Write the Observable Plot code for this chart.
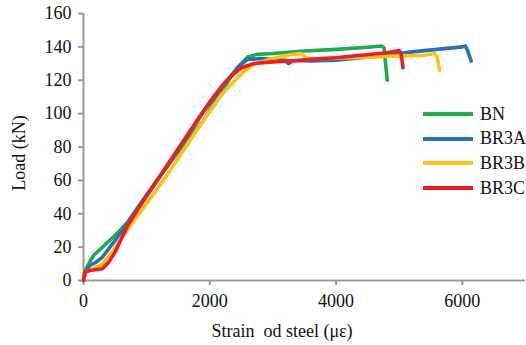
<!DOCTYPE html>
<html>
<head>
<meta charset="utf-8">
<script src="https://cdn.jsdelivr.net/npm/d3@7"></script>
<script src="https://cdn.jsdelivr.net/npm/@observablehq/plot@0.6"></script>
<style>
  body { margin: 0; background: #fff; }
  #wrap { position: relative; width: 526px; height: 345px; font-family: "Liberation Serif", "Times New Roman", serif; color: #111; }
  #wrap svg { position: absolute; left: 0; top: 0; }
  #wrap svg, #wrap svg text { font-family: "Liberation Serif", "Times New Roman", serif !important; font-size: 18px !important; }
  .lbl { position: absolute; font-size: 18px; white-space: pre; line-height: 1; font-family: "Liberation Serif", serif; }
  #ylab { left: 19px; top: 153px; transform: translate(-50%, -50%) rotate(-90deg); }
  #xlab { left: 282px; top: 331px; transform: translate(-50%, -50%); }
  #legend { position: absolute; left: 423px; top: 102px; }
  .item { display: flex; align-items: center; height: 24.6px; }
  .swatch { width: 50px; height: 4px; margin-right: 7px; }
  .item span { font-size: 18px; font-family: "Liberation Serif", serif; }
</style>
</head>
<body>
<div id="wrap"></div>
<script>
// Series names and colours
const seriesNames = ["BN", "BR3A", "BR3B", "BR3C"];
const seriesColors = ["#1fab4e", "#2772b6", "#ffc114", "#ee1c24"];

// Strain (µε) and load (kN) for each specimen
const bnStrain   = [0, 20, 80, 160, 300, 500, 700, 900, 1200, 1500, 1750, 1900, 2100, 2300, 2450, 2600, 2750, 3000, 3500, 4000, 4500, 4720, 4760, 4810];
const bnLoad     = [0, 5, 10, 15, 20, 27, 35, 46, 62, 77, 89, 96, 108, 120, 128, 134, 135.5, 136, 137.5, 138.5, 139.8, 140.5, 139.5, 120];

const br3aStrain = [0, 30, 100, 200, 300, 500, 800, 1000, 1300, 1600, 1900, 2100, 2300, 2450, 2600, 2800, 3200, 3600, 4000, 4400, 4800, 5200, 5600, 6000, 6050, 6080, 6140];
const br3aLoad   = [0, 5, 9, 11, 14, 24, 40, 51, 67, 84, 101, 111, 121, 128, 132.5, 133, 132, 131.5, 132, 133.5, 135, 137, 138.5, 140, 140.5, 138, 131.5];

const br3bStrain = [0, 30, 150, 300, 450, 600, 800, 1000, 1300, 1600, 1900, 2200, 2400, 2550, 2700, 3000, 3300, 3450, 3550, 3800, 4200, 4600, 5000, 5400, 5560, 5600, 5640];
const br3bLoad   = [0, 5, 7, 10, 17, 25, 36, 46, 62, 79, 96, 112, 120, 125.5, 129.5, 133, 135.5, 136, 133, 133, 133.5, 134, 134.5, 135, 136, 134, 126];

const br3cStrain = [0, 25, 100, 300, 400, 500, 600, 700, 900, 1200, 1500, 1800, 2000, 2200, 2350, 2500, 2700, 3000, 3200, 3250, 3300, 3600, 4000, 4400, 4800, 5000, 5030, 5060];
const br3cLoad   = [0, 5, 6, 7, 11, 17, 25, 33, 45, 62, 79, 96, 107, 117, 123, 127.5, 130, 131, 131.5, 130, 131.5, 132.5, 133.5, 135, 136.5, 137.8, 136, 127.5];

// Axis ticks
const xTicks = [0, 2000, 4000, 6000];
const yTicks = [0, 20, 40, 60, 80, 100, 120, 140, 160];

const allStrain = [bnStrain, br3aStrain, br3bStrain, br3cStrain];
const allLoad = [bnLoad, br3aLoad, br3bLoad, br3cLoad];
const rows = seriesNames.flatMap((name, i) =>
  allStrain[i].map((s, j) => ({ series: name, strain: s, load: allLoad[i][j] })));

const axisGrey = "#999999";

const chart = Plot.plot({
  width: 526,
  height: 345,
  marginLeft: 83,
  marginRight: 1,
  marginTop: 13,
  marginBottom: 65,
  style: "font-family: 'Liberation Serif', serif; font-size: 18px; background: white; color: #111;",
  x: { domain: [0, 7000] },
  y: { domain: [0, 160] },
  color: { domain: seriesNames, range: seriesColors },
  marks: [
    Plot.ruleY([0], { stroke: axisGrey, strokeWidth: 2 }),
    Plot.ruleX([0], { stroke: axisGrey, strokeWidth: 2 }),
    Plot.axisX({ ticks: xTicks, tickSize: 5, tickPadding: 9, stroke: axisGrey, strokeWidth: 2, fill: "#111", label: null, tickFormat: d => String(d) }),
    Plot.axisY({ ticks: yTicks, tickSize: 5, tickPadding: 7, stroke: axisGrey, strokeWidth: 2, fill: "#111", label: null, tickFormat: d => String(d) }),
    Plot.line(rows, { x: "strain", y: "load", z: "series", stroke: "series", strokeWidth: 3.6, strokeLinejoin: "round", strokeLinecap: "round" })
  ]
});

const wrap = document.getElementById("wrap");
wrap.appendChild(chart);

const ylab = document.createElement("div");
ylab.className = "lbl"; ylab.id = "ylab"; ylab.textContent = "Load (kN)";
wrap.appendChild(ylab);

const xlab = document.createElement("div");
xlab.className = "lbl"; xlab.id = "xlab"; xlab.textContent = "Strain  od steel (\u03bc\u03b5)";
wrap.appendChild(xlab);

const legend = document.createElement("div");
legend.id = "legend";
seriesNames.forEach((name, i) => {
  const it = document.createElement("div");
  it.className = "item";
  const sw = document.createElement("div");
  sw.className = "swatch";
  sw.style.background = seriesColors[i];
  const tx = document.createElement("span");
  tx.textContent = name;
  it.appendChild(sw); it.appendChild(tx);
  legend.appendChild(it);
});
wrap.appendChild(legend);
</script>
</body>
</html>
